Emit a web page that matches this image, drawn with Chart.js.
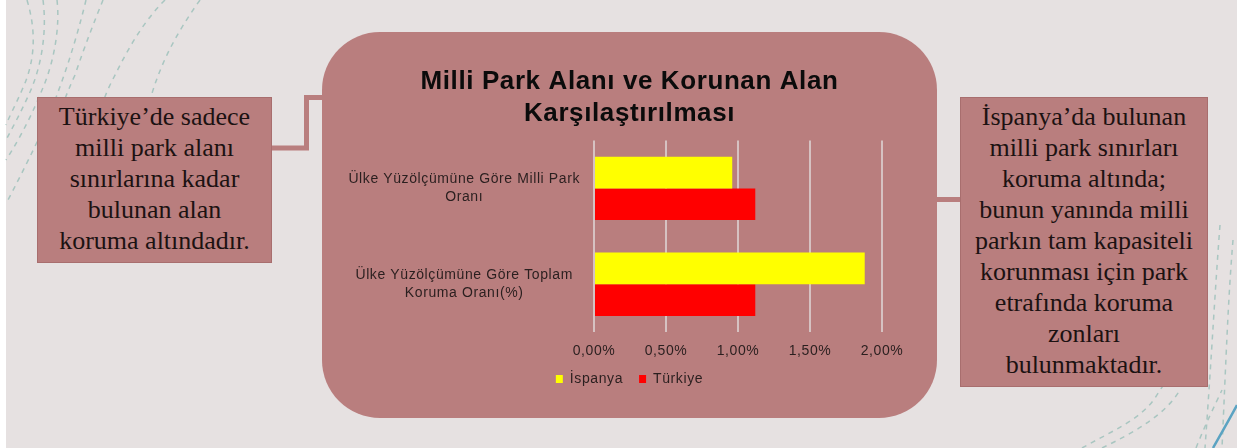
<!DOCTYPE html>
<html>
<head>
<meta charset="utf-8">
<script src="https://cdn.jsdelivr.net/npm/chart.js@4"></script>
<style>
  html, body { margin: 0; padding: 0; }
  body { width: 1237px; height: 448px; background: #e6e1e1; position: relative; overflow: hidden; }
  .strip { position: absolute; left: 0; top: 0; width: 6px; height: 448px; background: #ffffff; }
  .deco { position: absolute; left: 0; top: 0; }
  .panel { position: absolute; left: 322px; top: 32px; width: 615px; height: 386px; border-radius: 58px; background: #b97e7e; }
  .note { position: absolute; box-sizing: border-box; background: #b97e7e; border: 1px solid #a86e6e;
          font-family: "Liberation Serif", serif; font-size: 26px; line-height: 31px; color: #1c1212;
          text-align: center; padding-top: 3px; }
  #chartBox { position: absolute; left: 322px; top: 32px; }
</style>
</head>
<body>
<div class="strip"></div>
<svg class="deco" width="1237" height="448">
  <g fill="none" stroke="#a9c6c1" stroke-width="1.5" stroke-dasharray="5 5">
    <path d="M27 0 C36 30 36 60 22 90 C16 104 10 115 6 125"/>
    <path d="M43 0 C47 30 42 65 30 92 C22 110 14 125 6 140"/>
    <path d="M57 0 C60 25 55 60 42 90 C34 110 22 135 6 160"/>
    <path d="M86 0 C80 25 70 60 58 92 C48 120 34 150 8 200"/>
    <path d="M103 0 C95 20 85 45 75 75 C66 95 60 110 56 130"/>
    <path d="M165 0 C140 25 125 55 110 85 C104 98 100 110 96 120"/>
    <path d="M200 0 C175 35 160 65 150 100"/>
    <path d="M1082 448 C1110 432 1140 420 1155 398 C1160 390 1163 386 1165 382"/>
    <path d="M1102 448 C1135 432 1165 415 1180 390"/>
    <path d="M1196 448 C1205 425 1215 405 1222 390"/>
    <path d="M1220 225 C1215 290 1212 350 1205 448"/>
    <path d="M1233 240 C1228 300 1226 360 1222 448"/>
  </g>
  <path d="M1213 448 C1222 432 1230 418 1237 405" fill="none" stroke="#5ba3c2" stroke-width="2.5"/>
  <g fill="none" stroke="#b97e7e" stroke-width="5">
    <polyline points="270,148 306.5,148 306.5,97.5 326,97.5"/>
    <line x1="930" y1="199.5" x2="961" y2="199.5"/>
  </g>
</svg>
<div class="panel"></div>
<div class="note" style="left:37px; top:97px; width:235px; height:166px;">Türkiye’de sadece<br>milli park alanı<br>sınırlarına kadar<br>bulunan alan<br>koruma altındadır.</div>
<div class="note" style="left:960px; top:97px; width:248px; height:290px;">İspanya’da bulunan<br>milli park sınırları<br>koruma altında;<br>bunun yanında milli<br>parkın tam kapasiteli<br>korunması için park<br>etrafında koruma<br>zonları<br>bulunmaktadır.</div>
<div id="chartBox"><canvas id="chart" width="615" height="386"></canvas></div>
<script>
const chartTitle = ['Milli Park Alanı ve Korunan Alan', 'Karşılaştırılması'];
const categories = [
  ['Ülke Yüzölçümüne Göre Milli Park', 'Oranı'],
  ['Ülke Yüzölçümüne Göre Toplam', 'Koruma Oranı(%)']
];
const seriesNames = ['İspanya', 'Türkiye'];
const ispanyaValues = [0.96, 1.88];
const turkiyeValues = [1.12, 1.12];
const xTickMin = 0;
const xTickMax = 2;
const xTickStep = 0.5;

const textColor = '#2a1f1f';

// letters in the original are spread a bit wider than our fonts
const spacingPlugin = {
  id: 'spacing',
  beforeUpdate(chart) { chart.ctx.letterSpacing = '0.6px'; },
  beforeDraw(chart) { chart.ctx.letterSpacing = '0.6px'; }
};

// title and legend are centred on the whole panel, not on the plot
const centerPlugin = {
  id: 'centerBoxes',
  afterLayout(chart) {
    const t = chart.titleBlock;
    if (t) { t.left = 0; t.right = chart.width; t.width = chart.width; }
    const l = chart.legend;
    if (l) {
      l.left = 0; l.right = chart.width; l.width = chart.width;
      l.top -= 15; l.bottom -= 15;
    }
  }
};

function percentLabel(v) {
  return v.toFixed(2).replace('.', ',') + '%';
}

const ctx = document.getElementById('chart');
new Chart(ctx, {
  type: 'bar',
  data: {
    labels: categories,
    datasets: [
      {
        label: seriesNames[0],
        data: ispanyaValues,
        backgroundColor: '#ffff00',
        categoryPercentage: 0.66,
        barPercentage: 1
      },
      {
        label: seriesNames[1],
        data: turkiyeValues,
        backgroundColor: '#ff0000',
        categoryPercentage: 0.66,
        barPercentage: 1
      }
    ]
  },
  options: {
    indexAxis: 'y',
    responsive: false,
    animation: false,
    devicePixelRatio: 1,
    layout: { padding: { top: 34, right: 55, bottom: 7, left: 10 } },
    scales: {
      x: {
        min: xTickMin,
        max: xTickMax,
        ticks: {
          stepSize: xTickStep,
          callback: v => percentLabel(v),
          color: textColor,
          font: { family: '"Liberation Sans", Arial, sans-serif', size: 14 },
          padding: 11
        },
        grid: { color: '#d6c2c2', lineWidth: 2, drawTicks: false },
        border: { display: false }
      },
      y: {
        ticks: {
          crossAlign: 'center',
          color: textColor,
          font: { family: '"Liberation Sans", Arial, sans-serif', size: 14, lineHeight: 1.25 },
          padding: 6
        },
        grid: { display: false },
        border: { display: false },
        afterFit(scale) { scale.width = 262; }
      }
    },
    plugins: {
      title: {
        display: true,
        text: chartTitle,
        color: '#0b0b0b',
        font: { family: '"Liberation Sans", Arial, sans-serif', size: 26, weight: 'bold', lineHeight: 1.22 },
        padding: { top: 0, bottom: 11 }
      },
      legend: {
        position: 'bottom',
        labels: {
          boxWidth: 7,
          boxHeight: 8,
          color: textColor,
          font: { family: '"Liberation Sans", Arial, sans-serif', size: 14 },
          padding: 16
        }
      },
      tooltip: { enabled: false }
    }
  },
  plugins: [spacingPlugin, centerPlugin]
});
</script>
</body>
</html>
